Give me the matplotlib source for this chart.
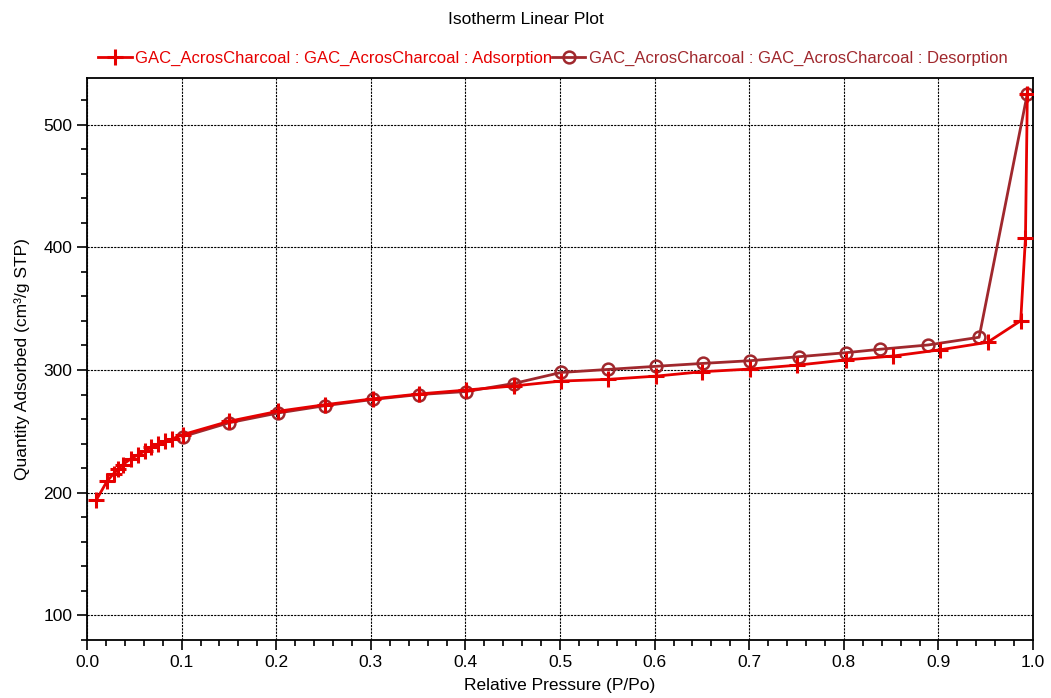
import numpy as np
import matplotlib.pyplot as plt
from matplotlib.ticker import MultipleLocator

plt.rcParams['font.family'] = ['Liberation Sans', 'DejaVu Sans']

# адсорбция
ads_p = [0.010, 0.021, 0.028, 0.033, 0.038, 0.046, 0.054, 0.061, 0.068, 0.075,
         0.082, 0.090, 0.101, 0.150, 0.202, 0.252, 0.302, 0.351, 0.401, 0.451,
         0.501, 0.551, 0.601, 0.650, 0.701, 0.751, 0.802, 0.852, 0.902, 0.952,
         0.987, 0.992, 0.994]
ads_q = [194.3, 209.2, 215.5, 219.0, 223.0, 227.5, 231.0, 234.0, 237.0, 239.5,
         241.9, 243.8, 247.3, 258.2, 266.4, 271.8, 276.5, 280.5, 283.7, 287.0,
         291.0, 292.4, 295.0, 298.6, 300.8, 304.0, 308.2, 311.4, 316.5, 322.6,
         340.2, 407.5, 525.3]

# десорбция
des_p = [0.994, 0.943, 0.889, 0.838, 0.802, 0.753, 0.701, 0.651, 0.601, 0.551,
         0.501, 0.451, 0.401, 0.351, 0.302, 0.252, 0.202, 0.150, 0.101]
des_q = [525.3, 326.7, 320.4, 316.9, 314.1, 310.9, 307.6, 305.4, 303.0, 300.5,
         298.0, 289.0, 282.5, 280.0, 276.0, 271.0, 265.0, 257.0, 245.7]

ads_color = '#e60000'
des_color = '#a0282d'

fig = plt.figure(figsize=(10.51, 6.98), dpi=100)
ax = fig.add_axes([0.0828, 0.0831, 0.9001, 0.8052])

ax.plot(ads_p, ads_q, color=ads_color, lw=2, marker='+', ms=12, mew=2.2,
        label='GAC_AcrosCharcoal : GAC_AcrosCharcoal : Adsorption', zorder=3)
ax.plot(des_p, des_q, color=des_color, lw=2, marker='o', ms=8.5, mew=1.8,
        mfc='none', label='GAC_AcrosCharcoal : GAC_AcrosCharcoal : Desorption', zorder=2)

ax.set_xlim(0, 1.0)
ax.set_ylim(80, 538)
ax.xaxis.set_major_locator(MultipleLocator(0.1))
ax.xaxis.set_minor_locator(MultipleLocator(0.02))
ax.yaxis.set_major_locator(MultipleLocator(100))
ax.yaxis.set_minor_locator(MultipleLocator(20))
ax.tick_params(which='major', direction='out', length=7, width=1.2, labelsize=12.5)
ax.tick_params(which='minor', direction='out', length=4, width=1.2)
for s in ax.spines.values():
    s.set_linewidth(1.3)

ax.grid(True, which='major', color='black', ls=(0, (2, 1)), lw=0.8)
ax.get_ygridlines()[0].set_color('#eeeeee')

ax.set_xlabel('Relative Pressure (P/Po)', fontsize=12.5, labelpad=6)
ax.set_ylabel('Quantity Adsorbed (cm³/g STP)', fontsize=12.5, labelpad=10)
fig.suptitle('Isotherm Linear Plot', fontsize=12.5, y=0.983)

leg = fig.legend(loc='upper center', bbox_to_anchor=(0.526, 0.948), ncol=2,
                 frameon=False, fontsize=12, handlelength=2.0, handletextpad=0.2,
                 columnspacing=0.0)
for txt, c in zip(leg.get_texts(), [ads_color, des_color]):
    txt.set_color(c)

fig.savefig('out.png', dpi=100)
